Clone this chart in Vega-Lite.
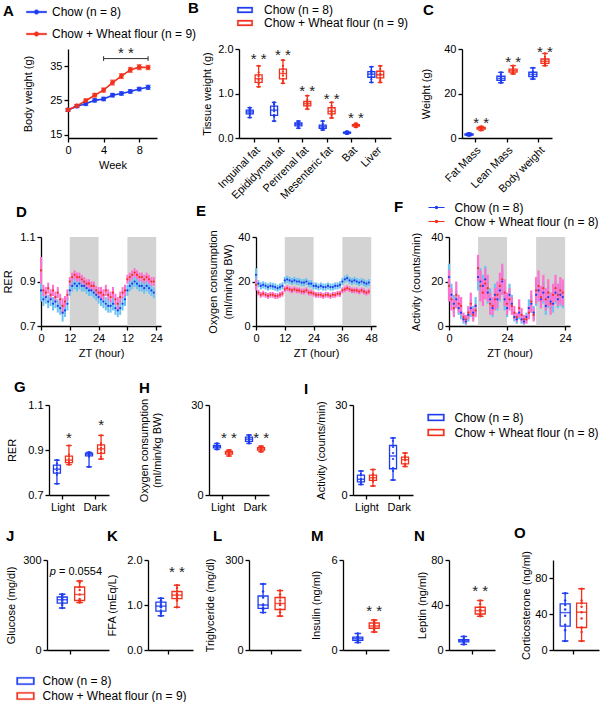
{
"$schema":"https://vega.github.io/schema/vega-lite/v6.json",
"background":"white",
"padding":{"left":2,"top":1,"right":0,"bottom":0},
"config":{
 "font":"Liberation Sans",
 "view":{"stroke":null},
 "axis":{"grid":false,"domainColor":"#000","domainWidth":1.3,"tickColor":"#000","tickWidth":1.3,"tickSize":4,"labelFont":"Liberation Sans","labelFontSize":11,"labelColor":"#000","titleFont":"Liberation Sans","titleFontSize":11,"titleFontWeight":"normal","titleColor":"#000","labelPadding":2,"labelFlush":false,"labelOverlap":false},
 "title":{"fontSize":15,"fontWeight":"bold","anchor":"start","frame":"group","offset":0,"color":"#000"},
 "legend":{"padding":0,"labelFont":"Liberation Sans","labelFontSize":12,"labelColor":"#000","labelLimit":300,"symbolOpacity":1}
},
"datasets":{
 "bw":[
  {"wk":0,"g":"C","m":22.2,"se":0.4},{"wk":1,"g":"C","m":23.3,"se":0.4},{"wk":2,"g":"C","m":24.0,"se":0.5},{"wk":3,"g":"C","m":25.0,"se":0.5},{"wk":4,"g":"C","m":25.4,"se":0.5},{"wk":5,"g":"C","m":26.5,"se":0.5},{"wk":6,"g":"C","m":27.0,"se":0.5},{"wk":7,"g":"C","m":27.6,"se":0.5},{"wk":8,"g":"C","m":28.3,"se":0.5},{"wk":9,"g":"C","m":28.8,"se":0.6},
  {"wk":0,"g":"W","m":22.2,"se":0.4},{"wk":1,"g":"W","m":23.4,"se":0.4},{"wk":2,"g":"W","m":24.9,"se":0.5},{"wk":3,"g":"W","m":26.5,"se":0.5},{"wk":4,"g":"W","m":28.0,"se":0.6},{"wk":5,"g":"W","m":30.2,"se":0.7},{"wk":6,"g":"W","m":32.1,"se":0.7},{"wk":7,"g":"W","m":33.9,"se":0.7},{"wk":8,"g":"W","m":34.7,"se":0.7},{"wk":9,"g":"W","m":34.6,"se":0.6}
 ],
 "aBr":[{"x":4,"x2":9,"y":37.2,"y2":37.2},{"x":4,"x2":4,"y":36.5,"y2":37.9},{"x":9,"x2":9,"y":36.5,"y2":37.9}],
 "aStar":[{"x":6.5,"y":38.7,"s":"* *"}],
 "tis":[
  {"t":"Inguinal fat","g":"C","v":0.46},{"t":"Inguinal fat","g":"C","v":0.52},{"t":"Inguinal fat","g":"C","v":0.55},{"t":"Inguinal fat","g":"C","v":0.57},{"t":"Inguinal fat","g":"C","v":0.6},{"t":"Inguinal fat","g":"C","v":0.62},{"t":"Inguinal fat","g":"C","v":0.65},{"t":"Inguinal fat","g":"C","v":0.68},
  {"t":"Inguinal fat","g":"W","v":1.15},{"t":"Inguinal fat","g":"W","v":1.22},{"t":"Inguinal fat","g":"W","v":1.25},{"t":"Inguinal fat","g":"W","v":1.3},{"t":"Inguinal fat","g":"W","v":1.33},{"t":"Inguinal fat","g":"W","v":1.38},{"t":"Inguinal fat","g":"W","v":1.42},{"t":"Inguinal fat","g":"W","v":1.47},{"t":"Inguinal fat","g":"W","v":1.62},
  {"t":"Epididymal fat","g":"C","v":0.38},{"t":"Epididymal fat","g":"C","v":0.48},{"t":"Epididymal fat","g":"C","v":0.52},{"t":"Epididymal fat","g":"C","v":0.6},{"t":"Epididymal fat","g":"C","v":0.65},{"t":"Epididymal fat","g":"C","v":0.7},{"t":"Epididymal fat","g":"C","v":0.76},{"t":"Epididymal fat","g":"C","v":0.8},
  {"t":"Epididymal fat","g":"W","v":1.23},{"t":"Epididymal fat","g":"W","v":1.28},{"t":"Epididymal fat","g":"W","v":1.33},{"t":"Epididymal fat","g":"W","v":1.4},{"t":"Epididymal fat","g":"W","v":1.45},{"t":"Epididymal fat","g":"W","v":1.5},{"t":"Epididymal fat","g":"W","v":1.55},{"t":"Epididymal fat","g":"W","v":1.62},{"t":"Epididymal fat","g":"W","v":1.75},
  {"t":"Perirenal fat","g":"C","v":0.22},{"t":"Perirenal fat","g":"C","v":0.25},{"t":"Perirenal fat","g":"C","v":0.28},{"t":"Perirenal fat","g":"C","v":0.3},{"t":"Perirenal fat","g":"C","v":0.32},{"t":"Perirenal fat","g":"C","v":0.33},{"t":"Perirenal fat","g":"C","v":0.36},{"t":"Perirenal fat","g":"C","v":0.38},
  {"t":"Perirenal fat","g":"W","v":0.65},{"t":"Perirenal fat","g":"W","v":0.7},{"t":"Perirenal fat","g":"W","v":0.72},{"t":"Perirenal fat","g":"W","v":0.75},{"t":"Perirenal fat","g":"W","v":0.77},{"t":"Perirenal fat","g":"W","v":0.8},{"t":"Perirenal fat","g":"W","v":0.82},{"t":"Perirenal fat","g":"W","v":0.86},{"t":"Perirenal fat","g":"W","v":0.95},
  {"t":"Mesenteric fat","g":"C","v":0.18},{"t":"Mesenteric fat","g":"C","v":0.2},{"t":"Mesenteric fat","g":"C","v":0.22},{"t":"Mesenteric fat","g":"C","v":0.24},{"t":"Mesenteric fat","g":"C","v":0.26},{"t":"Mesenteric fat","g":"C","v":0.28},{"t":"Mesenteric fat","g":"C","v":0.32},{"t":"Mesenteric fat","g":"C","v":0.38},
  {"t":"Mesenteric fat","g":"W","v":0.45},{"t":"Mesenteric fat","g":"W","v":0.5},{"t":"Mesenteric fat","g":"W","v":0.54},{"t":"Mesenteric fat","g":"W","v":0.58},{"t":"Mesenteric fat","g":"W","v":0.6},{"t":"Mesenteric fat","g":"W","v":0.63},{"t":"Mesenteric fat","g":"W","v":0.68},{"t":"Mesenteric fat","g":"W","v":0.72},{"t":"Mesenteric fat","g":"W","v":0.8},
  {"t":"Bat","g":"C","v":0.09},{"t":"Bat","g":"C","v":0.1},{"t":"Bat","g":"C","v":0.11},{"t":"Bat","g":"C","v":0.12},{"t":"Bat","g":"C","v":0.12},{"t":"Bat","g":"C","v":0.13},{"t":"Bat","g":"C","v":0.14},{"t":"Bat","g":"C","v":0.15},
  {"t":"Bat","g":"W","v":0.24},{"t":"Bat","g":"W","v":0.26},{"t":"Bat","g":"W","v":0.27},{"t":"Bat","g":"W","v":0.28},{"t":"Bat","g":"W","v":0.29},{"t":"Bat","g":"W","v":0.3},{"t":"Bat","g":"W","v":0.3},{"t":"Bat","g":"W","v":0.31},{"t":"Bat","g":"W","v":0.33},
  {"t":"Liver","g":"C","v":1.25},{"t":"Liver","g":"C","v":1.32},{"t":"Liver","g":"C","v":1.38},{"t":"Liver","g":"C","v":1.42},{"t":"Liver","g":"C","v":1.45},{"t":"Liver","g":"C","v":1.48},{"t":"Liver","g":"C","v":1.52},{"t":"Liver","g":"C","v":1.6},
  {"t":"Liver","g":"W","v":1.25},{"t":"Liver","g":"W","v":1.3},{"t":"Liver","g":"W","v":1.35},{"t":"Liver","g":"W","v":1.4},{"t":"Liver","g":"W","v":1.42},{"t":"Liver","g":"W","v":1.45},{"t":"Liver","g":"W","v":1.5},{"t":"Liver","g":"W","v":1.55},{"t":"Liver","g":"W","v":1.62}
 ],
 "bStar":[{"t":"Inguinal fat","g":"W","y":1.78,"s":"* *"},{"t":"Epididymal fat","g":"W","y":1.87,"s":"* *"},{"t":"Perirenal fat","g":"W","y":1.06,"s":"* *"},{"t":"Mesenteric fat","g":"W","y":0.87,"s":"* *"},{"t":"Bat","g":"W","y":0.46,"s":"* *"}],
 "comp":[
  {"t":"Fat Mass","g":"C","v":1.0},{"t":"Fat Mass","g":"C","v":1.2},{"t":"Fat Mass","g":"C","v":1.4},{"t":"Fat Mass","g":"C","v":1.5},{"t":"Fat Mass","g":"C","v":1.6},{"t":"Fat Mass","g":"C","v":1.8},{"t":"Fat Mass","g":"C","v":2.0},{"t":"Fat Mass","g":"C","v":2.2},
  {"t":"Fat Mass","g":"W","v":3.4},{"t":"Fat Mass","g":"W","v":3.8},{"t":"Fat Mass","g":"W","v":4.0},{"t":"Fat Mass","g":"W","v":4.2},{"t":"Fat Mass","g":"W","v":4.4},{"t":"Fat Mass","g":"W","v":4.6},{"t":"Fat Mass","g":"W","v":4.8},{"t":"Fat Mass","g":"W","v":5.0},{"t":"Fat Mass","g":"W","v":5.2},
  {"t":"Lean Mass","g":"C","v":24.8},{"t":"Lean Mass","g":"C","v":25.5},{"t":"Lean Mass","g":"C","v":26.0},{"t":"Lean Mass","g":"C","v":26.5},{"t":"Lean Mass","g":"C","v":27.0},{"t":"Lean Mass","g":"C","v":27.5},{"t":"Lean Mass","g":"C","v":28.5},{"t":"Lean Mass","g":"C","v":29.5},
  {"t":"Lean Mass","g":"W","v":28.8},{"t":"Lean Mass","g":"W","v":29.2},{"t":"Lean Mass","g":"W","v":29.6},{"t":"Lean Mass","g":"W","v":30.0},{"t":"Lean Mass","g":"W","v":30.2},{"t":"Lean Mass","g":"W","v":30.5},{"t":"Lean Mass","g":"W","v":31.0},{"t":"Lean Mass","g":"W","v":31.5},{"t":"Lean Mass","g":"W","v":32.5},
  {"t":"Body weight","g":"C","v":26.5},{"t":"Body weight","g":"C","v":27.0},{"t":"Body weight","g":"C","v":27.8},{"t":"Body weight","g":"C","v":28.3},{"t":"Body weight","g":"C","v":28.8},{"t":"Body weight","g":"C","v":29.4},{"t":"Body weight","g":"C","v":30.0},{"t":"Body weight","g":"C","v":31.5},
  {"t":"Body weight","g":"W","v":32.5},{"t":"Body weight","g":"W","v":33.0},{"t":"Body weight","g":"W","v":33.5},{"t":"Body weight","g":"W","v":34.0},{"t":"Body weight","g":"W","v":34.5},{"t":"Body weight","g":"W","v":35.0},{"t":"Body weight","g":"W","v":35.5},{"t":"Body weight","g":"W","v":36.5},{"t":"Body weight","g":"W","v":38.0}
 ],
 "cStar":[{"t":"Fat Mass","g":"W","y":6.8,"s":"* *"},{"t":"Lean Mass","g":"W","y":34.3,"s":"* *"},{"t":"Body weight","g":"W","y":38.7,"s":"* *"}],
 "dark":[{"s":12,"e":24},{"s":36,"e":48}],
 "rer":[
  {"h":0,"g":"C","m":0.86,"se":0.05},{"h":1,"g":"C","m":0.82,"se":0.03},{"h":2,"g":"C","m":0.83,"se":0.03},{"h":3,"g":"C","m":0.81,"se":0.03},{"h":4,"g":"C","m":0.82,"se":0.03},{"h":5,"g":"C","m":0.80,"se":0.03},{"h":6,"g":"C","m":0.81,"se":0.03},{"h":7,"g":"C","m":0.79,"se":0.03},{"h":8,"g":"C","m":0.78,"se":0.03},{"h":9,"g":"C","m":0.76,"se":0.04},{"h":10,"g":"C","m":0.77,"se":0.03},{"h":11,"g":"C","m":0.80,"se":0.03},
  {"h":12,"g":"C","m":0.86,"se":0.025},{"h":13,"g":"C","m":0.88,"se":0.025},{"h":14,"g":"C","m":0.89,"se":0.025},{"h":15,"g":"C","m":0.88,"se":0.025},{"h":16,"g":"C","m":0.89,"se":0.025},{"h":17,"g":"C","m":0.88,"se":0.025},{"h":18,"g":"C","m":0.88,"se":0.025},{"h":19,"g":"C","m":0.87,"se":0.025},{"h":20,"g":"C","m":0.86,"se":0.025},{"h":21,"g":"C","m":0.86,"se":0.025},{"h":22,"g":"C","m":0.85,"se":0.025},{"h":23,"g":"C","m":0.84,"se":0.025},
  {"h":24,"g":"C","m":0.83,"se":0.03},{"h":25,"g":"C","m":0.82,"se":0.03},{"h":26,"g":"C","m":0.81,"se":0.03},{"h":27,"g":"C","m":0.80,"se":0.03},{"h":28,"g":"C","m":0.79,"se":0.03},{"h":29,"g":"C","m":0.79,"se":0.03},{"h":30,"g":"C","m":0.80,"se":0.03},{"h":31,"g":"C","m":0.78,"se":0.03},{"h":32,"g":"C","m":0.77,"se":0.03},{"h":33,"g":"C","m":0.78,"se":0.03},{"h":34,"g":"C","m":0.80,"se":0.03},{"h":35,"g":"C","m":0.82,"se":0.03},
  {"h":36,"g":"C","m":0.86,"se":0.025},{"h":37,"g":"C","m":0.88,"se":0.025},{"h":38,"g":"C","m":0.89,"se":0.025},{"h":39,"g":"C","m":0.90,"se":0.025},{"h":40,"g":"C","m":0.89,"se":0.025},{"h":41,"g":"C","m":0.88,"se":0.025},{"h":42,"g":"C","m":0.88,"se":0.025},{"h":43,"g":"C","m":0.87,"se":0.025},{"h":44,"g":"C","m":0.88,"se":0.025},{"h":45,"g":"C","m":0.87,"se":0.025},{"h":46,"g":"C","m":0.86,"se":0.025},{"h":47,"g":"C","m":0.85,"se":0.025},
  {"h":0,"g":"W","m":0.95,"se":0.06},{"h":1,"g":"W","m":0.86,"se":0.025},{"h":2,"g":"W","m":0.85,"se":0.025},{"h":3,"g":"W","m":0.87,"se":0.025},{"h":4,"g":"W","m":0.84,"se":0.025},{"h":5,"g":"W","m":0.86,"se":0.025},{"h":6,"g":"W","m":0.83,"se":0.025},{"h":7,"g":"W","m":0.85,"se":0.025},{"h":8,"g":"W","m":0.82,"se":0.025},{"h":9,"g":"W","m":0.79,"se":0.035},{"h":10,"g":"W","m":0.81,"se":0.025},{"h":11,"g":"W","m":0.84,"se":0.025},
  {"h":12,"g":"W","m":0.90,"se":0.02},{"h":13,"g":"W","m":0.92,"se":0.02},{"h":14,"g":"W","m":0.93,"se":0.02},{"h":15,"g":"W","m":0.92,"se":0.02},{"h":16,"g":"W","m":0.92,"se":0.02},{"h":17,"g":"W","m":0.91,"se":0.02},{"h":18,"g":"W","m":0.90,"se":0.02},{"h":19,"g":"W","m":0.89,"se":0.02},{"h":20,"g":"W","m":0.89,"se":0.02},{"h":21,"g":"W","m":0.88,"se":0.02},{"h":22,"g":"W","m":0.88,"se":0.02},{"h":23,"g":"W","m":0.86,"se":0.02},
  {"h":24,"g":"W","m":0.85,"se":0.025},{"h":25,"g":"W","m":0.85,"se":0.025},{"h":26,"g":"W","m":0.84,"se":0.025},{"h":27,"g":"W","m":0.86,"se":0.025},{"h":28,"g":"W","m":0.84,"se":0.025},{"h":29,"g":"W","m":0.83,"se":0.025},{"h":30,"g":"W","m":0.85,"se":0.025},{"h":31,"g":"W","m":0.82,"se":0.025},{"h":32,"g":"W","m":0.80,"se":0.03},{"h":33,"g":"W","m":0.83,"se":0.025},{"h":34,"g":"W","m":0.85,"se":0.025},{"h":35,"g":"W","m":0.86,"se":0.025},
  {"h":36,"g":"W","m":0.91,"se":0.02},{"h":37,"g":"W","m":0.92,"se":0.02},{"h":38,"g":"W","m":0.93,"se":0.02},{"h":39,"g":"W","m":0.94,"se":0.02},{"h":40,"g":"W","m":0.93,"se":0.02},{"h":41,"g":"W","m":0.92,"se":0.02},{"h":42,"g":"W","m":0.92,"se":0.02},{"h":43,"g":"W","m":0.91,"se":0.02},{"h":44,"g":"W","m":0.92,"se":0.02},{"h":45,"g":"W","m":0.91,"se":0.02},{"h":46,"g":"W","m":0.90,"se":0.02},{"h":47,"g":"W","m":0.90,"se":0.02}
 ],
 "vo2":[
  {"h":0,"g":"C","m":23,"se":3},{"h":1,"g":"C","m":19,"se":1.6},{"h":2,"g":"C","m":18,"se":1.6},{"h":3,"g":"C","m":18.5,"se":1.6},{"h":4,"g":"C","m":18,"se":1.6},{"h":5,"g":"C","m":17.5,"se":1.6},{"h":6,"g":"C","m":18,"se":1.6},{"h":7,"g":"C","m":17.8,"se":1.6},{"h":8,"g":"C","m":17.5,"se":1.6},{"h":9,"g":"C","m":17,"se":1.6},{"h":10,"g":"C","m":17.5,"se":1.6},{"h":11,"g":"C","m":18,"se":1.6},
  {"h":12,"g":"C","m":20.5,"se":1.6},{"h":13,"g":"C","m":21,"se":1.6},{"h":14,"g":"C","m":20.5,"se":1.6},{"h":15,"g":"C","m":20,"se":1.6},{"h":16,"g":"C","m":20.5,"se":1.6},{"h":17,"g":"C","m":20,"se":1.6},{"h":18,"g":"C","m":20,"se":1.6},{"h":19,"g":"C","m":19.5,"se":1.6},{"h":20,"g":"C","m":19.5,"se":1.6},{"h":21,"g":"C","m":20,"se":1.6},{"h":22,"g":"C","m":19,"se":1.6},{"h":23,"g":"C","m":19,"se":1.6},
  {"h":24,"g":"C","m":18,"se":1.6},{"h":25,"g":"C","m":18,"se":1.6},{"h":26,"g":"C","m":17.5,"se":1.6},{"h":27,"g":"C","m":18,"se":1.6},{"h":28,"g":"C","m":17.5,"se":1.6},{"h":29,"g":"C","m":17.5,"se":1.6},{"h":30,"g":"C","m":18,"se":1.6},{"h":31,"g":"C","m":17.5,"se":1.6},{"h":32,"g":"C","m":17.5,"se":1.6},{"h":33,"g":"C","m":18,"se":1.6},{"h":34,"g":"C","m":18,"se":1.6},{"h":35,"g":"C","m":18.5,"se":1.6},
  {"h":36,"g":"C","m":20,"se":1.6},{"h":37,"g":"C","m":21,"se":1.6},{"h":38,"g":"C","m":21.5,"se":1.6},{"h":39,"g":"C","m":20.5,"se":1.6},{"h":40,"g":"C","m":20,"se":1.6},{"h":41,"g":"C","m":20.5,"se":1.6},{"h":42,"g":"C","m":20,"se":1.6},{"h":43,"g":"C","m":19.5,"se":1.6},{"h":44,"g":"C","m":20,"se":1.6},{"h":45,"g":"C","m":19.5,"se":1.6},{"h":46,"g":"C","m":19,"se":1.6},{"h":47,"g":"C","m":19.5,"se":1.6},
  {"h":0,"g":"W","m":18.5,"se":2.5},{"h":1,"g":"W","m":15,"se":1.3},{"h":2,"g":"W","m":14,"se":1.3},{"h":3,"g":"W","m":14.5,"se":1.3},{"h":4,"g":"W","m":14,"se":1.3},{"h":5,"g":"W","m":13.5,"se":1.3},{"h":6,"g":"W","m":14,"se":1.3},{"h":7,"g":"W","m":14,"se":1.3},{"h":8,"g":"W","m":13.5,"se":1.3},{"h":9,"g":"W","m":13.5,"se":1.3},{"h":10,"g":"W","m":14,"se":1.3},{"h":11,"g":"W","m":14.5,"se":1.3},
  {"h":12,"g":"W","m":16.5,"se":1.3},{"h":13,"g":"W","m":17,"se":1.3},{"h":14,"g":"W","m":16.5,"se":1.3},{"h":15,"g":"W","m":16,"se":1.3},{"h":16,"g":"W","m":16.5,"se":1.3},{"h":17,"g":"W","m":16,"se":1.3},{"h":18,"g":"W","m":16,"se":1.3},{"h":19,"g":"W","m":15.5,"se":1.3},{"h":20,"g":"W","m":15.5,"se":1.3},{"h":21,"g":"W","m":16,"se":1.3},{"h":22,"g":"W","m":15,"se":1.3},{"h":23,"g":"W","m":15,"se":1.3},
  {"h":24,"g":"W","m":14.5,"se":1.3},{"h":25,"g":"W","m":14,"se":1.3},{"h":26,"g":"W","m":14,"se":1.3},{"h":27,"g":"W","m":14,"se":1.3},{"h":28,"g":"W","m":13.5,"se":1.3},{"h":29,"g":"W","m":14,"se":1.3},{"h":30,"g":"W","m":14,"se":1.3},{"h":31,"g":"W","m":13.5,"se":1.3},{"h":32,"g":"W","m":14,"se":1.3},{"h":33,"g":"W","m":14,"se":1.3},{"h":34,"g":"W","m":14.5,"se":1.3},{"h":35,"g":"W","m":14.5,"se":1.3},
  {"h":36,"g":"W","m":16,"se":1.3},{"h":37,"g":"W","m":16.5,"se":1.3},{"h":38,"g":"W","m":17,"se":1.3},{"h":39,"g":"W","m":16.5,"se":1.3},{"h":40,"g":"W","m":16,"se":1.3},{"h":41,"g":"W","m":16,"se":1.3},{"h":42,"g":"W","m":16,"se":1.3},{"h":43,"g":"W","m":15.5,"se":1.3},{"h":44,"g":"W","m":16,"se":1.3},{"h":45,"g":"W","m":15.5,"se":1.3},{"h":46,"g":"W","m":15,"se":1.3},{"h":47,"g":"W","m":15.5,"se":1.3}
 ],
 "act":[
  {"h":0,"g":"C","m":22,"se":6},{"h":1,"g":"C","m":14,"se":5},{"h":2,"g":"C","m":10,"se":4},{"h":3,"g":"C","m":12,"se":4},{"h":4,"g":"C","m":8,"se":3},{"h":5,"g":"C","m":6,"se":3},{"h":6,"g":"C","m":3,"se":2},{"h":7,"g":"C","m":2,"se":1.5},{"h":8,"g":"C","m":5,"se":3},{"h":9,"g":"C","m":8,"se":4},{"h":10,"g":"C","m":6,"se":3},{"h":11,"g":"C","m":9,"se":4},
  {"h":12,"g":"C","m":22,"se":6},{"h":13,"g":"C","m":20,"se":6},{"h":14,"g":"C","m":18,"se":5},{"h":15,"g":"C","m":21,"se":6},{"h":16,"g":"C","m":15,"se":5},{"h":17,"g":"C","m":12,"se":5},{"h":18,"g":"C","m":8,"se":4},{"h":19,"g":"C","m":14,"se":5},{"h":20,"g":"C","m":12,"se":5},{"h":21,"g":"C","m":16,"se":5},{"h":22,"g":"C","m":20,"se":6},{"h":23,"g":"C","m":12,"se":5},
  {"h":24,"g":"C","m":8,"se":4},{"h":25,"g":"C","m":14,"se":5},{"h":26,"g":"C","m":10,"se":4},{"h":27,"g":"C","m":4,"se":2},{"h":28,"g":"C","m":3,"se":2},{"h":29,"g":"C","m":6,"se":3},{"h":30,"g":"C","m":3,"se":2},{"h":31,"g":"C","m":2,"se":1.5},{"h":32,"g":"C","m":4,"se":2},{"h":33,"g":"C","m":8,"se":4},{"h":34,"g":"C","m":10,"se":4},{"h":35,"g":"C","m":6,"se":3},
  {"h":36,"g":"C","m":14,"se":5},{"h":37,"g":"C","m":16,"se":5},{"h":38,"g":"C","m":12,"se":4},{"h":39,"g":"C","m":15,"se":5},{"h":40,"g":"C","m":9,"se":4},{"h":41,"g":"C","m":13,"se":5},{"h":42,"g":"C","m":11,"se":4},{"h":43,"g":"C","m":10,"se":4},{"h":44,"g":"C","m":15,"se":5},{"h":45,"g":"C","m":12,"se":4},{"h":46,"g":"C","m":14,"se":5},{"h":47,"g":"C","m":13,"se":5},
  {"h":0,"g":"W","m":18,"se":7},{"h":1,"g":"W","m":12,"se":5},{"h":2,"g":"W","m":8,"se":4},{"h":3,"g":"W","m":14,"se":6},{"h":4,"g":"W","m":10,"se":4},{"h":5,"g":"W","m":9,"se":4},{"h":6,"g":"W","m":4,"se":2},{"h":7,"g":"W","m":3,"se":2},{"h":8,"g":"W","m":6,"se":3},{"h":9,"g":"W","m":10,"se":5},{"h":10,"g":"W","m":5,"se":3},{"h":11,"g":"W","m":7,"se":3},
  {"h":12,"g":"W","m":26,"se":6},{"h":13,"g":"W","m":18,"se":7},{"h":14,"g":"W","m":15,"se":6},{"h":15,"g":"W","m":19,"se":7},{"h":16,"g":"W","m":17,"se":6},{"h":17,"g":"W","m":10,"se":5},{"h":18,"g":"W","m":9,"se":4},{"h":19,"g":"W","m":12,"se":5},{"h":20,"g":"W","m":14,"se":6},{"h":21,"g":"W","m":18,"se":6},{"h":22,"g":"W","m":21,"se":7},{"h":23,"g":"W","m":15,"se":6},
  {"h":24,"g":"W","m":10,"se":5},{"h":25,"g":"W","m":12,"se":5},{"h":26,"g":"W","m":9,"se":4},{"h":27,"g":"W","m":6,"se":3},{"h":28,"g":"W","m":4,"se":2},{"h":29,"g":"W","m":8,"se":4},{"h":30,"g":"W","m":5,"se":3},{"h":31,"g":"W","m":3,"se":2},{"h":32,"g":"W","m":3,"se":2},{"h":33,"g":"W","m":6,"se":3},{"h":34,"g":"W","m":11,"se":5},{"h":35,"g":"W","m":5,"se":3},
  {"h":36,"g":"W","m":16,"se":6},{"h":37,"g":"W","m":18,"se":7},{"h":38,"g":"W","m":13,"se":5},{"h":39,"g":"W","m":17,"se":6},{"h":40,"g":"W","m":12,"se":5},{"h":41,"g":"W","m":15,"se":6},{"h":42,"g":"W","m":10,"se":5},{"h":43,"g":"W","m":14,"se":5},{"h":44,"g":"W","m":17,"se":6},{"h":45,"g":"W","m":14,"se":5},{"h":46,"g":"W","m":16,"se":6},{"h":47,"g":"W","m":15,"se":6}
 ],
 "gRer":[
  {"p":"Light","g":"C","v":0.75},{"p":"Light","g":"C","v":0.79},{"p":"Light","g":"C","v":0.80},{"p":"Light","g":"C","v":0.81},{"p":"Light","g":"C","v":0.82},{"p":"Light","g":"C","v":0.83},{"p":"Light","g":"C","v":0.84},{"p":"Light","g":"C","v":0.855},
  {"p":"Light","g":"W","v":0.835},{"p":"Light","g":"W","v":0.84},{"p":"Light","g":"W","v":0.845},{"p":"Light","g":"W","v":0.85},{"p":"Light","g":"W","v":0.86},{"p":"Light","g":"W","v":0.87},{"p":"Light","g":"W","v":0.88},{"p":"Light","g":"W","v":0.92},
  {"p":"Dark","g":"C","v":0.825},{"p":"Dark","g":"C","v":0.87},{"p":"Dark","g":"C","v":0.875},{"p":"Dark","g":"C","v":0.88},{"p":"Dark","g":"C","v":0.882},{"p":"Dark","g":"C","v":0.885},{"p":"Dark","g":"C","v":0.89},{"p":"Dark","g":"C","v":0.89},
  {"p":"Dark","g":"W","v":0.86},{"p":"Dark","g":"W","v":0.87},{"p":"Dark","g":"W","v":0.89},{"p":"Dark","g":"W","v":0.9},{"p":"Dark","g":"W","v":0.91},{"p":"Dark","g":"W","v":0.92},{"p":"Dark","g":"W","v":0.93},{"p":"Dark","g":"W","v":0.965}
 ],
 "gStar":[{"p":"Light","g":"W","y":0.955,"s":"*"},{"p":"Dark","g":"W","y":1.013,"s":"*"}],
 "hVo2":[
  {"p":"Light","g":"C","v":15.2},{"p":"Light","g":"C","v":15.5},{"p":"Light","g":"C","v":15.8},{"p":"Light","g":"C","v":16},{"p":"Light","g":"C","v":16.2},{"p":"Light","g":"C","v":16.5},{"p":"Light","g":"C","v":16.8},{"p":"Light","g":"C","v":17.2},
  {"p":"Light","g":"W","v":13},{"p":"Light","g":"W","v":13.4},{"p":"Light","g":"W","v":13.7},{"p":"Light","g":"W","v":14},{"p":"Light","g":"W","v":14.2},{"p":"Light","g":"W","v":14.5},{"p":"Light","g":"W","v":14.8},{"p":"Light","g":"W","v":15},
  {"p":"Dark","g":"C","v":17.2},{"p":"Dark","g":"C","v":17.6},{"p":"Dark","g":"C","v":18},{"p":"Dark","g":"C","v":18.4},{"p":"Dark","g":"C","v":18.8},{"p":"Dark","g":"C","v":19.2},{"p":"Dark","g":"C","v":19.6},{"p":"Dark","g":"C","v":20},
  {"p":"Dark","g":"W","v":14.4},{"p":"Dark","g":"W","v":14.8},{"p":"Dark","g":"W","v":15},{"p":"Dark","g":"W","v":15.2},{"p":"Dark","g":"W","v":15.5},{"p":"Dark","g":"W","v":15.7},{"p":"Dark","g":"W","v":16},{"p":"Dark","g":"W","v":16.3}
 ],
 "hStar":[{"p":"Light","g":"W","y":19,"s":"* *"},{"p":"Dark","g":"W","y":19,"s":"* *"}],
 "iAct":[
  {"p":"Light","g":"C","v":3.5},{"p":"Light","g":"C","v":4},{"p":"Light","g":"C","v":4.5},{"p":"Light","g":"C","v":5},{"p":"Light","g":"C","v":5.5},{"p":"Light","g":"C","v":6.5},{"p":"Light","g":"C","v":7},{"p":"Light","g":"C","v":8},
  {"p":"Light","g":"W","v":3},{"p":"Light","g":"W","v":4.5},{"p":"Light","g":"W","v":5},{"p":"Light","g":"W","v":5.5},{"p":"Light","g":"W","v":6},{"p":"Light","g":"W","v":6.5},{"p":"Light","g":"W","v":7},{"p":"Light","g":"W","v":8.5},
  {"p":"Dark","g":"C","v":5},{"p":"Dark","g":"C","v":8},{"p":"Dark","g":"C","v":9},{"p":"Dark","g":"C","v":12},{"p":"Dark","g":"C","v":14},{"p":"Dark","g":"C","v":16},{"p":"Dark","g":"C","v":18},{"p":"Dark","g":"C","v":19},
  {"p":"Dark","g":"W","v":9.5},{"p":"Dark","g":"W","v":10},{"p":"Dark","g":"W","v":10.5},{"p":"Dark","g":"W","v":11.5},{"p":"Dark","g":"W","v":12},{"p":"Dark","g":"W","v":12.5},{"p":"Dark","g":"W","v":13},{"p":"Dark","g":"W","v":14}
 ],
 "serum":[
  {"m":"Glucose","g":"C","v":140},{"m":"Glucose","g":"C","v":150},{"m":"Glucose","g":"C","v":158},{"m":"Glucose","g":"C","v":165},{"m":"Glucose","g":"C","v":170},{"m":"Glucose","g":"C","v":175},{"m":"Glucose","g":"C","v":182},{"m":"Glucose","g":"C","v":186},
  {"m":"Glucose","g":"W","v":158},{"m":"Glucose","g":"W","v":162},{"m":"Glucose","g":"W","v":165},{"m":"Glucose","g":"W","v":170},{"m":"Glucose","g":"W","v":185},{"m":"Glucose","g":"W","v":200},{"m":"Glucose","g":"W","v":210},{"m":"Glucose","g":"W","v":225},{"m":"Glucose","g":"W","v":230},
  {"m":"FFA","g":"C","v":0.76},{"m":"FFA","g":"C","v":0.82},{"m":"FFA","g":"C","v":0.88},{"m":"FFA","g":"C","v":0.95},{"m":"FFA","g":"C","v":1.0},{"m":"FFA","g":"C","v":1.05},{"m":"FFA","g":"C","v":1.1},{"m":"FFA","g":"C","v":1.15},
  {"m":"FFA","g":"W","v":0.95},{"m":"FFA","g":"W","v":1.1},{"m":"FFA","g":"W","v":1.14},{"m":"FFA","g":"W","v":1.18},{"m":"FFA","g":"W","v":1.22},{"m":"FFA","g":"W","v":1.25},{"m":"FFA","g":"W","v":1.3},{"m":"FFA","g":"W","v":1.38},{"m":"FFA","g":"W","v":1.44},
  {"m":"TG","g":"C","v":125},{"m":"TG","g":"C","v":135},{"m":"TG","g":"C","v":140},{"m":"TG","g":"C","v":148},{"m":"TG","g":"C","v":152},{"m":"TG","g":"C","v":175},{"m":"TG","g":"C","v":195},{"m":"TG","g":"C","v":220},
  {"m":"TG","g":"W","v":113},{"m":"TG","g":"W","v":125},{"m":"TG","g":"W","v":135},{"m":"TG","g":"W","v":150},{"m":"TG","g":"W","v":155},{"m":"TG","g":"W","v":165},{"m":"TG","g":"W","v":175},{"m":"TG","g":"W","v":185},{"m":"TG","g":"W","v":198},
  {"m":"Insulin","g":"C","v":0.5},{"m":"Insulin","g":"C","v":0.6},{"m":"Insulin","g":"C","v":0.65},{"m":"Insulin","g":"C","v":0.7},{"m":"Insulin","g":"C","v":0.8},{"m":"Insulin","g":"C","v":0.85},{"m":"Insulin","g":"C","v":0.9},{"m":"Insulin","g":"C","v":1.1},
  {"m":"Insulin","g":"W","v":1.2},{"m":"Insulin","g":"W","v":1.35},{"m":"Insulin","g":"W","v":1.45},{"m":"Insulin","g":"W","v":1.55},{"m":"Insulin","g":"W","v":1.6},{"m":"Insulin","g":"W","v":1.7},{"m":"Insulin","g":"W","v":1.8},{"m":"Insulin","g":"W","v":1.9},{"m":"Insulin","g":"W","v":2.0},
  {"m":"Leptin","g":"C","v":5},{"m":"Leptin","g":"C","v":6.5},{"m":"Leptin","g":"C","v":7.5},{"m":"Leptin","g":"C","v":8},{"m":"Leptin","g":"C","v":8.5},{"m":"Leptin","g":"C","v":9},{"m":"Leptin","g":"C","v":10},{"m":"Leptin","g":"C","v":12},
  {"m":"Leptin","g":"W","v":30},{"m":"Leptin","g":"W","v":31},{"m":"Leptin","g":"W","v":32},{"m":"Leptin","g":"W","v":34},{"m":"Leptin","g":"W","v":35},{"m":"Leptin","g":"W","v":36},{"m":"Leptin","g":"W","v":38},{"m":"Leptin","g":"W","v":41},{"m":"Leptin","g":"W","v":44},
  {"m":"Cort","g":"C","v":10},{"m":"Cort","g":"C","v":22},{"m":"Cort","g":"C","v":28},{"m":"Cort","g":"C","v":38},{"m":"Cort","g":"C","v":45},{"m":"Cort","g":"C","v":50},{"m":"Cort","g":"C","v":55},{"m":"Cort","g":"C","v":63},
  {"m":"Cort","g":"W","v":10},{"m":"Cort","g":"W","v":20},{"m":"Cort","g":"W","v":25},{"m":"Cort","g":"W","v":35},{"m":"Cort","g":"W","v":42},{"m":"Cort","g":"W","v":48},{"m":"Cort","g":"W","v":52},{"m":"Cort","g":"W","v":55},{"m":"Cort","g":"W","v":68}
 ],
 "sStar":[{"m":"FFA","g":"W","y":1.74,"s":"* *"},{"m":"Insulin","g":"W","y":2.6,"s":"* *"},{"m":"Leptin","g":"W","y":52.3,"s":"* *"}],
 "jP":[{"m":"Glucose","y":260}],
 "blank":[{"k":0}]
},
"spacing":-2,
"resolve":{"scale":{"color":"independent","fill":"independent","stroke":"independent","xOffset":"independent"},"legend":{"color":"independent","fill":"independent","stroke":"independent"}},
"vconcat":[
 {
  "hconcat":[
   {"width":27,"height":10,"data":{"name":"blank"},"mark":{"type":"point","opacity":0},"encoding":{}},
   {
    "width":171,"height":89,
    "title":{"text":"A","dx":-65,"dy":21},
    "layer":[
     {"data":{"name":"bw"},"mark":{"type":"errorbar","ticks":{"size":5},"thickness":1.3},
      "encoding":{
       "x":{"field":"wk","type":"quantitative","title":"Week","scale":{"domain":[0,10],"range":[0,89]},"axis":{"values":[0,2,4,6,8,10]}},
       "y":{"field":"m","type":"quantitative","title":"Body weight (g)","scale":{"domain":[15,40]},"axis":{"values":[15,20,25,30,35,40],"titlePadding":16}},
       "yError":{"field":"se"},
       "color":{"field":"g","type":"nominal","scale":{"domain":["C","W"],"range":["#1e3cf0","#f2311d"]},"legend":{"orient":"none","legendX":-42,"legendY":-47.5,"title":null,"symbolType":"M-1,-0.07H1V0.07H-1Z M-0.22,0A0.22,0.22,0,1,1,0.22,0A0.22,0.22,0,1,1,-0.22,0Z","symbolSize":400,"symbolStrokeWidth":0.6,"labelOffset":5,"rowPadding":5,"labelExpr":"datum.label == 'C' ? 'Chow (n = 8)' : 'Chow + Wheat flour (n = 9)'"}}}},
     {"data":{"name":"bw"},"mark":{"type":"line","strokeWidth":1.6},
      "encoding":{"x":{"field":"wk","type":"quantitative","title":"Week"},"y":{"field":"m","type":"quantitative","title":"Body weight (g)"},"color":{"field":"g","type":"nominal"}}},
     {"data":{"name":"bw"},"mark":{"type":"point","filled":true,"size":22,"opacity":1},
      "encoding":{"x":{"field":"wk","type":"quantitative","title":"Week"},"y":{"field":"m","type":"quantitative","title":"Body weight (g)"},"color":{"field":"g","type":"nominal"}}},
     {"data":{"name":"aBr"},"mark":{"type":"rule","strokeWidth":1,"color":"#333"},
      "encoding":{"x":{"field":"x","type":"quantitative","title":"Week"},"x2":{"field":"x2"},"y":{"field":"y","type":"quantitative","title":"Body weight (g)"},"y2":{"field":"y2"}}},
     {"data":{"name":"aStar"},"mark":{"type":"text","fontSize":15,"baseline":"middle","color":"#222"},
      "encoding":{"x":{"field":"x","type":"quantitative","title":"Week"},"y":{"field":"y","type":"quantitative","title":"Body weight (g)"},"text":{"field":"s"}}}
    ]
   },
   {
    "width":223,"height":89,
    "title":{"text":"B","dx":-51,"dy":17},
    "layer":[
     {"data":{"name":"tis"},"mark":{"type":"boxplot","extent":"min-max","size":7,"box":{"fill":"white","strokeWidth":1.3},"median":{"filled":false,"strokeWidth":1,"thickness":0.5},"rule":{"strokeWidth":1.3},"ticks":{"filled":false,"size":4,"strokeWidth":1,"thickness":0.5}},
      "encoding":{
       "x":{"field":"t","type":"nominal","title":null,"sort":["Inguinal fat","Epididymal fat","Perirenal fat","Mesenteric fat","Bat","Liver"],"scale":{"range":[0,152],"paddingInner":0.27,"paddingOuter":0.26},"axis":{"labelAngle":-45}},
       "xOffset":{"field":"g","type":"nominal","scale":{"domain":["C","W"],"paddingInner":0,"paddingOuter":0}},
       "y":{"field":"v","type":"quantitative","title":"Tissue weight (g)","scale":{"domain":[0,2]},"axis":{"values":[0,0.5,1,1.5,2],"format":".1f","titlePadding":5}},
       "stroke":{"field":"g","type":"nominal","scale":{"domain":["C","W"],"range":["#1e3cf0","#f2311d"]},"legend":{"orient":"none","legendX":-1,"legendY":-46,"title":null,"symbolType":"M-1.2,-0.45H1.2V0.45H-1.2Z M-0.98,-0.23V0.23H0.98V-0.23Z","symbolSize":169,"symbolStrokeWidth":0.3,"labelOffset":12,"rowPadding":0,"labelExpr":"datum.label == 'C' ? 'Chow (n = 8)' : 'Chow + Wheat flour (n = 9)'"}}}},
     {"data":{"name":"tis"},"mark":{"type":"point","filled":true,"size":5,"opacity":1},
      "encoding":{"x":{"field":"t","type":"nominal","title":null,"sort":["Inguinal fat","Epididymal fat","Perirenal fat","Mesenteric fat","Bat","Liver"]},"xOffset":{"field":"g","type":"nominal"},"y":{"field":"v","type":"quantitative","title":"Tissue weight (g)"},
       "fill":{"field":"g","type":"nominal","scale":{"domain":["C","W"],"range":["#1e3cf0","#f2311d"]},"legend":null}}},
     {"data":{"name":"bStar"},"mark":{"type":"text","fontSize":15,"baseline":"middle","color":"#222"},
      "encoding":{"x":{"field":"t","type":"nominal","title":null,"sort":["Inguinal fat","Epididymal fat","Perirenal fat","Mesenteric fat","Bat","Liver"]},"xOffset":{"field":"g","type":"nominal"},"y":{"field":"y","type":"quantitative","title":"Tissue weight (g)"},"text":{"field":"s"}}}
    ]
   },
   {
    "width":90,"height":89,
    "title":{"text":"C","dx":-39,"offset":25},
    "layer":[
     {"data":{"name":"comp"},"mark":{"type":"boxplot","extent":"min-max","size":8,"box":{"fill":"white","strokeWidth":1.3},"median":{"filled":false,"strokeWidth":1,"thickness":0.5},"rule":{"strokeWidth":1.3},"ticks":{"filled":false,"size":5,"strokeWidth":1,"thickness":0.5}},
      "encoding":{
       "x":{"field":"t","type":"nominal","title":null,"sort":["Fat Mass","Lean Mass","Body weight"],"scale":{"paddingInner":0.24,"paddingOuter":0.03},"axis":{"labelAngle":-45}},
       "xOffset":{"field":"g","type":"nominal","scale":{"domain":["C","W"],"paddingInner":0,"paddingOuter":0}},
       "y":{"field":"v","type":"quantitative","title":"Weight (g)","scale":{"domain":[0,40]},"axis":{"values":[0,10,20,30,40],"titlePadding":12}},
       "stroke":{"field":"g","type":"nominal","scale":{"domain":["C","W"],"range":["#1e3cf0","#f2311d"]},"legend":null}}},
     {"data":{"name":"comp"},"mark":{"type":"point","filled":true,"size":5,"opacity":1},
      "encoding":{"x":{"field":"t","type":"nominal","title":null,"sort":["Fat Mass","Lean Mass","Body weight"]},"xOffset":{"field":"g","type":"nominal"},"y":{"field":"v","type":"quantitative","title":"Weight (g)"},
       "fill":{"field":"g","type":"nominal","scale":{"domain":["C","W"],"range":["#1e3cf0","#f2311d"]},"legend":null}}},
     {"data":{"name":"cStar"},"mark":{"type":"text","fontSize":15,"baseline":"middle","color":"#222"},
      "encoding":{"x":{"field":"t","type":"nominal","title":null,"sort":["Fat Mass","Lean Mass","Body weight"]},"xOffset":{"field":"g","type":"nominal"},"y":{"field":"y","type":"quantitative","title":"Weight (g)"},"text":{"field":"s"}}}
    ]
   }
  ],
  "spacing":0,"bounds":"flush",
  "resolve":{"scale":{"color":"independent","fill":"independent","stroke":"independent","xOffset":"independent"},"legend":{"color":"independent","fill":"independent","stroke":"independent"}}
 },
 {
  "vconcat":[
   {
    "hconcat":[
     {
      "width":215,"height":89,
      "title":{"text":"D","dx":-25,"offset":11},
      "resolve":{"scale":{"color":"independent"},"legend":{"color":"independent"}},
      "layer":[
       {"data":{"name":"dark"},"mark":{"type":"rect","color":"#d3d3d3"},
        "encoding":{"x":{"field":"s","type":"quantitative","title":"ZT (hour)","scale":{"domain":[0,48],"range":[0,120]},"axis":{"values":[0,12,24,36,48],"labelExpr":"datum.value > 24 ? datum.value - 24 : datum.value"}},"x2":{"field":"e"}}},
       {"data":{"name":"rer"},"mark":{"type":"errorbar","thickness":2},
        "encoding":{"x":{"field":"h","type":"quantitative","title":"ZT (hour)"},"y":{"field":"m","type":"quantitative","title":"RER","scale":{"domain":[0.7,1.1]},"axis":{"values":[0.7,0.8,0.9,1.0,1.1],"format":".1f","titlePadding":6}},"yError":{"field":"se"},
         "color":{"field":"g","type":"nominal","scale":{"domain":["C","W"],"range":["#6cc3f2","#ff70cf"]},"legend":null}}},
       {"data":{"name":"rer"},"mark":{"type":"point","filled":true,"size":5,"opacity":1},
        "encoding":{"x":{"field":"h","type":"quantitative","title":"ZT (hour)"},"y":{"field":"m","type":"quantitative","title":"RER"},
         "color":{"field":"g","type":"nominal","scale":{"domain":["C","W"],"range":["#1e3cf0","#f2311d"]},"legend":null}}}
      ]
     },
     {
      "width":193,"height":89,
      "title":{"text":"E","dx":-60,"offset":11},
      "resolve":{"scale":{"color":"independent"},"legend":{"color":"independent"}},
      "layer":[
       {"data":{"name":"dark"},"mark":{"type":"rect","color":"#d3d3d3"},
        "encoding":{"x":{"field":"s","type":"quantitative","title":"ZT (hour)","scale":{"domain":[0,48],"range":[0,120]},"axis":{"values":[0,12,24,36,48]}},"x2":{"field":"e"}}},
       {"data":{"name":"vo2"},"mark":{"type":"errorbar","thickness":2},
        "encoding":{"x":{"field":"h","type":"quantitative","title":"ZT (hour)"},"y":{"field":"m","type":"quantitative","title":["Oxygen consumption","(ml/min/kg BW)"],"scale":{"domain":[0,40]},"axis":{"values":[0,10,20,30,40],"titlePadding":4,"titleLineHeight":15}},"yError":{"field":"se"},
         "color":{"field":"g","type":"nominal","scale":{"domain":["C","W"],"range":["#6cc3f2","#ff70cf"]},"legend":null}}},
       {"data":{"name":"vo2"},"mark":{"type":"point","filled":true,"size":5,"opacity":1},
        "encoding":{"x":{"field":"h","type":"quantitative","title":"ZT (hour)"},"y":{"field":"m","type":"quantitative","title":["Oxygen consumption","(ml/min/kg BW)"]},
         "color":{"field":"g","type":"nominal","scale":{"domain":["C","W"],"range":["#1e3cf0","#f2311d"]},"legend":null}}}
      ]
     },
     {
      "width":121,"height":89,
      "title":{"text":"F","dx":-55,"dy":19},
      "resolve":{"scale":{"color":"independent"},"legend":{"color":"independent"}},
      "layer":[
       {"data":{"name":"dark"},"mark":{"type":"rect","color":"#d3d3d3"},
        "encoding":{"x":{"field":"s","type":"quantitative","title":"ZT (hour)","scale":{"domain":[0,48]},"axis":{"values":[0,12,24,36,48],"labelExpr":"datum.value > 24 ? datum.value - 24 : datum.value"}},"x2":{"field":"e"}}},
       {"data":{"name":"act"},"mark":{"type":"errorbar","thickness":2.2},
        "encoding":{"x":{"field":"h","type":"quantitative","title":"ZT (hour)"},"y":{"field":"m","type":"quantitative","title":"Activity (counts/min)","scale":{"domain":[0,40]},"axis":{"values":[0,10,20,30,40],"titlePadding":9}},"yError":{"field":"se"},
         "color":{"field":"g","type":"nominal","scale":{"domain":["C","W"],"range":["#6cc3f2","#ff70cf"]},"legend":null}}},
       {"data":{"name":"act"},"mark":{"type":"point","filled":true,"size":5,"opacity":1},
        "encoding":{"x":{"field":"h","type":"quantitative","title":"ZT (hour)"},"y":{"field":"m","type":"quantitative","title":"Activity (counts/min)"},
         "color":{"field":"g","type":"nominal","scale":{"domain":["C","W"],"range":["#1e3cf0","#f2311d"]},"legend":{"orient":"none","legendX":-20.5,"legendY":-37.5,"title":null,"symbolType":"M-1.07,-0.08H1.07V0.08H-1.07Z M-0.22,0A0.22,0.22,0,1,1,0.22,0A0.22,0.22,0,1,1,-0.22,0Z","symbolSize":225,"symbolStrokeWidth":0.5,"labelOffset":10,"rowPadding":0,"labelExpr":"datum.label == 'C' ? 'Chow (n = 8)' : 'Chow + Wheat flour (n = 8)'"}}}}
      ]
     }
    ],
    "spacing":0,"bounds":"flush",
    "resolve":{"scale":{"color":"independent","fill":"independent","stroke":"independent","xOffset":"independent"},"legend":{"color":"independent","fill":"independent","stroke":"independent"}}
   },
   {
    "vconcat":[
     {
      "hconcat":[
       {"width":8,"height":10,"data":{"name":"blank"},"mark":{"type":"point","opacity":0},"encoding":{}},
       {
        "width":160,"height":90,
        "title":{"text":"G","dx":-35,"offset":4},
        "layer":[
         {"data":{"name":"gRer"},"mark":{"type":"boxplot","extent":"min-max","size":7,"box":{"fill":"white","strokeWidth":1.3},"median":{"filled":false,"strokeWidth":1,"thickness":0.5},"rule":{"strokeWidth":1.3},"ticks":{"filled":false,"size":5,"strokeWidth":1,"thickness":0.5}},
          "encoding":{
           "x":{"field":"p","type":"nominal","title":null,"sort":["Light","Dark"],"scale":{"range":[0,60],"paddingInner":0.25,"paddingOuter":0.06},"axis":{"labelAngle":0}},
           "xOffset":{"field":"g","type":"nominal","scale":{"domain":["C","W"],"paddingInner":0,"paddingOuter":0}},
           "y":{"field":"v","type":"quantitative","title":"RER","scale":{"domain":[0.7,1.1]},"axis":{"values":[0.7,0.8,0.9,1.0,1.1],"format":".1f","titlePadding":10}},
           "stroke":{"field":"g","type":"nominal","scale":{"domain":["C","W"],"range":["#1e3cf0","#f2311d"]},"legend":null}}},
         {"data":{"name":"gRer"},"mark":{"type":"point","filled":true,"size":5,"opacity":1},
          "encoding":{"x":{"field":"p","type":"nominal","title":null,"sort":["Light","Dark"]},"xOffset":{"field":"g","type":"nominal"},"y":{"field":"v","type":"quantitative","title":"RER"},
           "fill":{"field":"g","type":"nominal","scale":{"domain":["C","W"],"range":["#1e3cf0","#f2311d"]},"legend":null}}},
         {"data":{"name":"gStar"},"mark":{"type":"text","fontSize":15,"baseline":"middle","color":"#222"},
          "encoding":{"x":{"field":"p","type":"nominal","title":null,"sort":["Light","Dark"]},"xOffset":{"field":"g","type":"nominal"},"y":{"field":"y","type":"quantitative","title":"RER"},"text":{"field":"s"}}}
        ]
       },
       {
        "width":144,"height":90,
        "title":{"text":"H","dx":-70,"offset":2},
        "layer":[
         {"data":{"name":"hVo2"},"mark":{"type":"boxplot","extent":"min-max","size":7,"box":{"fill":"white","strokeWidth":1.3},"median":{"filled":false,"strokeWidth":1,"thickness":0.5},"rule":{"strokeWidth":1.3},"ticks":{"filled":false,"size":5,"strokeWidth":1,"thickness":0.5}},
          "encoding":{
           "x":{"field":"p","type":"nominal","title":null,"sort":["Light","Dark"],"scale":{"range":[0,60],"paddingInner":0.25,"paddingOuter":0.06},"axis":{"labelAngle":0}},
           "xOffset":{"field":"g","type":"nominal","scale":{"domain":["C","W"],"paddingInner":0,"paddingOuter":0}},
           "y":{"field":"v","type":"quantitative","title":["Oxygen consumption","(ml/min/kg BW)"],"scale":{"domain":[0,30]},"axis":{"values":[0,10,20,30],"titlePadding":28}},
           "stroke":{"field":"g","type":"nominal","scale":{"domain":["C","W"],"range":["#1e3cf0","#f2311d"]},"legend":null}}},
         {"data":{"name":"hVo2"},"mark":{"type":"point","filled":true,"size":5,"opacity":1},
          "encoding":{"x":{"field":"p","type":"nominal","title":null,"sort":["Light","Dark"]},"xOffset":{"field":"g","type":"nominal"},"y":{"field":"v","type":"quantitative","title":["Oxygen consumption","(ml/min/kg BW)"]},
           "fill":{"field":"g","type":"nominal","scale":{"domain":["C","W"],"range":["#1e3cf0","#f2311d"]},"legend":null}}},
         {"data":{"name":"hStar"},"mark":{"type":"text","fontSize":15,"baseline":"middle","color":"#222"},
          "encoding":{"x":{"field":"p","type":"nominal","title":null,"sort":["Light","Dark"]},"xOffset":{"field":"g","type":"nominal"},"y":{"field":"y","type":"quantitative","title":["Oxygen consumption","(ml/min/kg BW)"]},"text":{"field":"s"}}}
        ]
       },
       {
        "width":60,"height":90,
        "title":{"text":"I","dx":-49,"offset":2},
        "layer":[
         {"data":{"name":"iAct"},"mark":{"type":"boxplot","extent":"min-max","size":7,"box":{"fill":"white","strokeWidth":1.3},"median":{"filled":false,"strokeWidth":1,"thickness":0.5},"rule":{"strokeWidth":1.3},"ticks":{"filled":false,"size":5,"strokeWidth":1,"thickness":0.5}},
          "encoding":{
           "x":{"field":"p","type":"nominal","title":null,"sort":["Light","Dark"],"scale":{"paddingInner":0.25,"paddingOuter":0.06},"axis":{"labelAngle":0}},
           "xOffset":{"field":"g","type":"nominal","scale":{"domain":["C","W"],"paddingInner":0,"paddingOuter":0}},
           "y":{"field":"v","type":"quantitative","title":"Activity (counts/min)","scale":{"domain":[0,30]},"axis":{"values":[0,10,20,30],"titlePadding":8}},
           "stroke":{"field":"g","type":"nominal","scale":{"domain":["C","W"],"range":["#1e3cf0","#f2311d"]},"legend":{"orient":"none","legendX":74.5,"legendY":4,"title":null,"symbolType":"M-1.06,-0.45H1.06V0.45H-1.06Z M-0.88,-0.27V0.27H0.88V-0.27Z","symbolSize":256,"symbolStrokeWidth":0.3,"labelOffset":10,"rowPadding":0,"labelExpr":"datum.label == 'C' ? 'Chow (n = 8)' : 'Chow + Wheat flour (n = 8)'"}}}},
         {"data":{"name":"iAct"},"mark":{"type":"point","filled":true,"size":5,"opacity":1},
          "encoding":{"x":{"field":"p","type":"nominal","title":null,"sort":["Light","Dark"]},"xOffset":{"field":"g","type":"nominal"},"y":{"field":"v","type":"quantitative","title":"Activity (counts/min)"},
           "fill":{"field":"g","type":"nominal","scale":{"domain":["C","W"],"range":["#1e3cf0","#f2311d"]},"legend":null}}}
        ]
       }
      ],
      "spacing":0,"bounds":"flush",
      "resolve":{"scale":{"color":"independent","fill":"independent","stroke":"independent","xOffset":"independent"},"legend":{"color":"independent","fill":"independent","stroke":"independent"}}
     },
     {
      "hconcat":[
       {"width":6,"height":10,"data":{"name":"blank"},"mark":{"type":"point","opacity":0},"encoding":{}},
       {
        "width":101,"height":90,
        "title":{"text":"J","dx":-41,"offset":10},
        "transform":[{"filter":"datum.m == 'Glucose'"}],
        "data":{"name":"serum"},
        "layer":[
         {"mark":{"type":"boxplot","extent":"min-max","size":10,"box":{"fill":"white","strokeWidth":1.3},"median":{"filled":false,"strokeWidth":1,"thickness":0.5},"rule":{"strokeWidth":1.3},"ticks":{"filled":false,"size":6,"strokeWidth":1,"thickness":0.5}},
          "encoding":{
           "x":{"field":"m","type":"nominal","title":null,"scale":{"range":[0,62],"paddingInner":0,"paddingOuter":0.39,"align":0.24},"axis":{"labels":false}},
           "xOffset":{"field":"g","type":"nominal","scale":{"domain":["C","W"],"paddingInner":0,"paddingOuter":0}},
           "y":{"field":"v","type":"quantitative","title":"Glucose (mg/dl)","scale":{"domain":[0,300]},"axis":{"values":[0,100,200,300],"titlePadding":6}},
           "stroke":{"field":"g","type":"nominal","scale":{"domain":["C","W"],"range":["#1e3cf0","#f2311d"]},"legend":{"orient":"none","legendX":-30.5,"legendY":112,"title":null,"symbolType":"M-1.06,-0.45H1.06V0.45H-1.06Z M-0.89,-0.28V0.28H0.89V-0.28Z","symbolSize":289,"symbolStrokeWidth":0.3,"labelOffset":8,"rowPadding":0,"labelExpr":"datum.label == 'C' ? 'Chow (n = 8)' : 'Chow + Wheat flour (n = 9)'"}}}},
         {"mark":{"type":"point","filled":true,"size":6,"opacity":1},
          "encoding":{"x":{"field":"m","type":"nominal","title":null},"xOffset":{"field":"g","type":"nominal"},"y":{"field":"v","type":"quantitative","title":"Glucose (mg/dl)"},
           "fill":{"field":"g","type":"nominal","scale":{"domain":["C","W"],"range":["#1e3cf0","#f2311d"]},"legend":null}}},
         {"data":{"name":"jP"},"mark":{"type":"text","fontSize":11,"fontStyle":"italic","align":"right","baseline":"middle","dx":-15},
          "encoding":{"x":{"field":"m","type":"nominal","title":null},"y":{"field":"y","type":"quantitative","title":"Glucose (mg/dl)"},"text":{"value":"p"}}},
         {"data":{"name":"jP"},"mark":{"type":"text","fontSize":11,"align":"left","baseline":"middle","dx":-12},
          "encoding":{"x":{"field":"m","type":"nominal","title":null},"y":{"field":"y","type":"quantitative","title":"Glucose (mg/dl)"},"text":{"value":"= 0.0554"}}}
        ]
       },
       {
        "width":101,"height":90,
        "title":{"text":"K","dx":-41,"offset":10},
        "layer":[
         {"data":{"name":"serum"},"transform":[{"filter":"datum.m == 'FFA'"}],"mark":{"type":"boxplot","extent":"min-max","size":10,"box":{"fill":"white","strokeWidth":1.3},"median":{"filled":false,"strokeWidth":1,"thickness":0.5},"rule":{"strokeWidth":1.3},"ticks":{"filled":false,"size":6,"strokeWidth":1,"thickness":0.5}},
          "encoding":{
           "x":{"field":"m","type":"nominal","title":null,"scale":{"range":[0,45],"paddingInner":0,"paddingOuter":0.2,"align":0.38},"axis":{"labels":false}},
           "xOffset":{"field":"g","type":"nominal","scale":{"domain":["C","W"],"paddingInner":0,"paddingOuter":0}},
           "y":{"field":"v","type":"quantitative","title":"FFA (mEq/L)","scale":{"domain":[0,2]},"axis":{"values":[0,0.5,1,1.5,2],"format":".1f","titlePadding":9}},
           "stroke":{"field":"g","type":"nominal","scale":{"domain":["C","W"],"range":["#1e3cf0","#f2311d"]},"legend":null}}},
         {"data":{"name":"serum"},"transform":[{"filter":"datum.m == 'FFA'"}],"mark":{"type":"point","filled":true,"size":6,"opacity":1},
          "encoding":{"x":{"field":"m","type":"nominal","title":null},"xOffset":{"field":"g","type":"nominal"},"y":{"field":"v","type":"quantitative","title":"FFA (mEq/L)"},
           "fill":{"field":"g","type":"nominal","scale":{"domain":["C","W"],"range":["#1e3cf0","#f2311d"]},"legend":null}}},
         {"data":{"name":"sStar"},"transform":[{"filter":"datum.m == 'FFA'"}],"mark":{"type":"text","fontSize":15,"baseline":"middle","color":"#222"},
          "encoding":{"x":{"field":"m","type":"nominal","title":null},"xOffset":{"field":"g","type":"nominal"},"y":{"field":"y","type":"quantitative","title":"FFA (mEq/L)"},"text":{"field":"s"}}}
        ]
       },
       {
        "width":94,"height":90,
        "title":{"text":"L","dx":-36,"offset":10},
        "layer":[
         {"data":{"name":"serum"},"transform":[{"filter":"datum.m == 'TG'"}],"mark":{"type":"boxplot","extent":"min-max","size":10,"box":{"fill":"white","strokeWidth":1.3},"median":{"filled":false,"strokeWidth":1,"thickness":0.5},"rule":{"strokeWidth":1.3},"ticks":{"filled":false,"size":6,"strokeWidth":1,"thickness":0.5}},
          "encoding":{
           "x":{"field":"m","type":"nominal","title":null,"scale":{"range":[0,52],"paddingInner":0,"paddingOuter":0.265,"align":0.31},"axis":{"labels":false}},
           "xOffset":{"field":"g","type":"nominal","scale":{"domain":["C","W"],"paddingInner":0,"paddingOuter":0}},
           "y":{"field":"v","type":"quantitative","title":"Triglyceride (mg/dl)","scale":{"domain":[0,300]},"axis":{"values":[0,100,200,300],"titlePadding":9}},
           "stroke":{"field":"g","type":"nominal","scale":{"domain":["C","W"],"range":["#1e3cf0","#f2311d"]},"legend":null}}},
         {"data":{"name":"serum"},"transform":[{"filter":"datum.m == 'TG'"}],"mark":{"type":"point","filled":true,"size":6,"opacity":1},
          "encoding":{"x":{"field":"m","type":"nominal","title":null},"xOffset":{"field":"g","type":"nominal"},"y":{"field":"v","type":"quantitative","title":"Triglyceride (mg/dl)"},
           "fill":{"field":"g","type":"nominal","scale":{"domain":["C","W"],"range":["#1e3cf0","#f2311d"]},"legend":null}}}
        ]
       },
       {
        "width":106,"height":90,
        "title":{"text":"M","dx":-32,"offset":10},
        "layer":[
         {"data":{"name":"serum"},"transform":[{"filter":"datum.m == 'Insulin'"}],"mark":{"type":"boxplot","extent":"min-max","size":10,"box":{"fill":"white","strokeWidth":1.3},"median":{"filled":false,"strokeWidth":1,"thickness":0.5},"rule":{"strokeWidth":1.3},"ticks":{"filled":false,"size":6,"strokeWidth":1,"thickness":0.5}},
          "encoding":{
           "x":{"field":"m","type":"nominal","title":null,"scale":{"range":[0,46],"paddingInner":0,"paddingOuter":0.2,"align":0.5},"axis":{"labels":false}},
           "xOffset":{"field":"g","type":"nominal","scale":{"domain":["C","W"],"paddingInner":0,"paddingOuter":0}},
           "y":{"field":"v","type":"quantitative","title":"Insulin (ng/ml)","scale":{"domain":[0,6]},"axis":{"values":[0,2,4,6],"titlePadding":9}},
           "stroke":{"field":"g","type":"nominal","scale":{"domain":["C","W"],"range":["#1e3cf0","#f2311d"]},"legend":null}}},
         {"data":{"name":"serum"},"transform":[{"filter":"datum.m == 'Insulin'"}],"mark":{"type":"point","filled":true,"size":6,"opacity":1},
          "encoding":{"x":{"field":"m","type":"nominal","title":null},"xOffset":{"field":"g","type":"nominal"},"y":{"field":"v","type":"quantitative","title":"Insulin (ng/ml)"},
           "fill":{"field":"g","type":"nominal","scale":{"domain":["C","W"],"range":["#1e3cf0","#f2311d"]},"legend":null}}},
         {"data":{"name":"sStar"},"transform":[{"filter":"datum.m == 'Insulin'"}],"mark":{"type":"text","fontSize":15,"baseline":"middle","color":"#222"},
          "encoding":{"x":{"field":"m","type":"nominal","title":null},"xOffset":{"field":"g","type":"nominal"},"y":{"field":"y","type":"quantitative","title":"Insulin (ng/ml)"},"text":{"field":"s"}}}
        ]
       },
       {
        "width":104,"height":90,
        "title":{"text":"N","dx":-35,"offset":10},
        "layer":[
         {"data":{"name":"serum"},"transform":[{"filter":"datum.m == 'Leptin'"}],"mark":{"type":"boxplot","extent":"min-max","size":10,"box":{"fill":"white","strokeWidth":1.3},"median":{"filled":false,"strokeWidth":1,"thickness":0.5},"rule":{"strokeWidth":1.3},"ticks":{"filled":false,"size":6,"strokeWidth":1,"thickness":0.5}},
          "encoding":{
           "x":{"field":"m","type":"nominal","title":null,"scale":{"range":[0,46],"paddingInner":0,"paddingOuter":0.2,"align":0.5},"axis":{"labels":false}},
           "xOffset":{"field":"g","type":"nominal","scale":{"domain":["C","W"],"paddingInner":0,"paddingOuter":0}},
           "y":{"field":"v","type":"quantitative","title":"Leptin (ng/ml)","scale":{"domain":[0,80]},"axis":{"values":[0,20,40,60,80],"titlePadding":3}},
           "stroke":{"field":"g","type":"nominal","scale":{"domain":["C","W"],"range":["#1e3cf0","#f2311d"]},"legend":null}}},
         {"data":{"name":"serum"},"transform":[{"filter":"datum.m == 'Leptin'"}],"mark":{"type":"point","filled":true,"size":6,"opacity":1},
          "encoding":{"x":{"field":"m","type":"nominal","title":null},"xOffset":{"field":"g","type":"nominal"},"y":{"field":"v","type":"quantitative","title":"Leptin (ng/ml)"},
           "fill":{"field":"g","type":"nominal","scale":{"domain":["C","W"],"range":["#1e3cf0","#f2311d"]},"legend":null}}},
         {"data":{"name":"sStar"},"transform":[{"filter":"datum.m == 'Leptin'"}],"mark":{"type":"text","fontSize":15,"baseline":"middle","color":"#222"},
          "encoding":{"x":{"field":"m","type":"nominal","title":null},"xOffset":{"field":"g","type":"nominal"},"y":{"field":"y","type":"quantitative","title":"Leptin (ng/ml)"},"text":{"field":"s"}}}
        ]
       },
       {
        "width":46,"height":90,
        "title":{"text":"O","dx":-39,"offset":10},
        "layer":[
         {"data":{"name":"serum"},"transform":[{"filter":"datum.m == 'Cort'"}],"mark":{"type":"boxplot","extent":"min-max","size":10,"box":{"fill":"white","strokeWidth":1.3},"median":{"filled":false,"strokeWidth":1,"thickness":0.5},"rule":{"strokeWidth":1.3},"ticks":{"filled":false,"size":6,"strokeWidth":1,"thickness":0.5}},
          "encoding":{
           "x":{"field":"m","type":"nominal","title":null,"scale":{"paddingInner":0,"paddingOuter":0.2,"align":0.3},"axis":{"labels":false}},
           "xOffset":{"field":"g","type":"nominal","scale":{"domain":["C","W"],"paddingInner":0,"paddingOuter":0}},
           "y":{"field":"v","type":"quantitative","title":"Corticosterone (ng/ml)","scale":{"domain":[0,100]},"axis":{"values":[0,20,40,60,80,100],"titlePadding":3}},
           "stroke":{"field":"g","type":"nominal","scale":{"domain":["C","W"],"range":["#1e3cf0","#f2311d"]},"legend":null}}},
         {"data":{"name":"serum"},"transform":[{"filter":"datum.m == 'Cort'"}],"mark":{"type":"point","filled":true,"size":6,"opacity":1},
          "encoding":{"x":{"field":"m","type":"nominal","title":null},"xOffset":{"field":"g","type":"nominal"},"y":{"field":"v","type":"quantitative","title":"Corticosterone (ng/ml)"},
           "fill":{"field":"g","type":"nominal","scale":{"domain":["C","W"],"range":["#1e3cf0","#f2311d"]},"legend":null}}}
        ]
       }
      ],
      "spacing":0,"bounds":"flush",
      "resolve":{"scale":{"color":"independent","fill":"independent","stroke":"independent","xOffset":"independent"},"legend":{"color":"independent","fill":"independent","stroke":"independent"}}
     }
    ],
    "spacing":13,
    "resolve":{"scale":{"color":"independent","fill":"independent","stroke":"independent","xOffset":"independent"},"legend":{"color":"independent","fill":"independent","stroke":"independent"}}
   }
  ],
  "spacing":22,
  "resolve":{"scale":{"color":"independent","fill":"independent","stroke":"independent","xOffset":"independent"},"legend":{"color":"independent","fill":"independent","stroke":"independent"}}
 }
]
}
